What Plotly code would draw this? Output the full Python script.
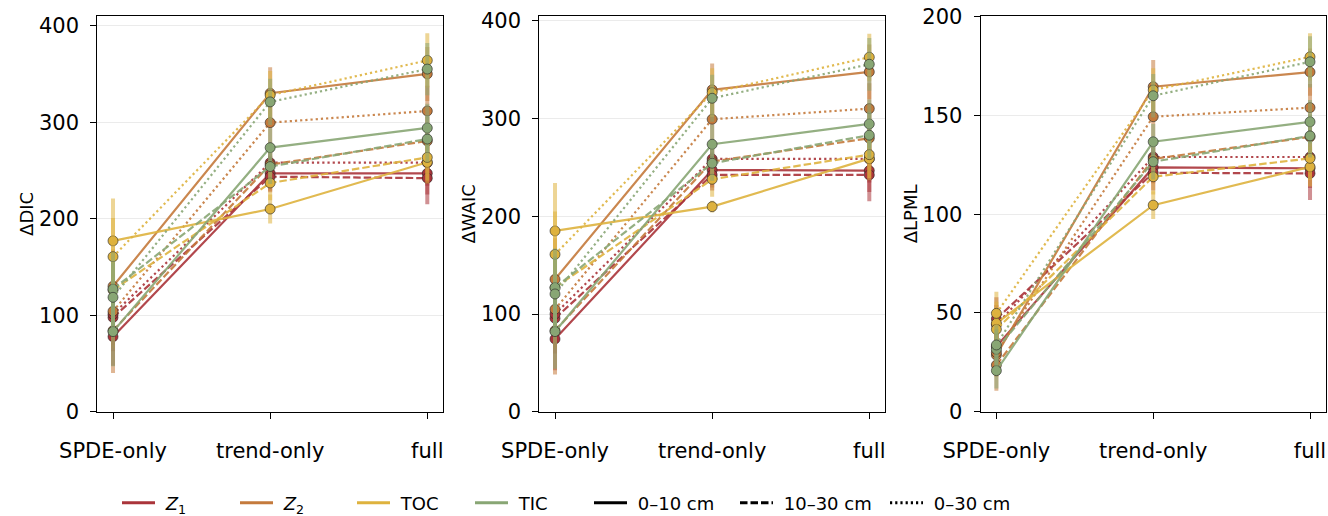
import plotly.graph_objects as go

# ---------------- data ----------------
MODELS = ["SPDE-only", "trend-only", "full"]
VARIABLES = ["Z1", "Z2", "TOC", "TIC"]
VAR_LABELS = ["<i>Z</i><sub>1</sub>", "<i>Z</i><sub>2</sub>", "TOC", "TIC"]
DEPTHS = ["0–10 cm", "10–30 cm", "0–30 cm"]
PANEL_TITLES = ["ΔDIC", "ΔWAIC", "ΔLPML"]

# values per depth: [0–10 cm, 10–30 cm, 0–30 cm], each over MODELS
DIC_Z1 = [[77.7, 247, 247], [97.7, 243.5, 242], [101, 258, 258]]
DIC_Z2 = [[130, 330, 350], [84, 256, 280.5], [104, 299.5, 311.6]]
DIC_TOC = [[177, 210, 258.4], [126, 237, 263.5], [160.6, 328, 364]]
DIC_TIC = [[83, 273.6, 294], [127, 254, 282.5], [118.5, 321, 355]]

DIC_Z1_ERR = [[30, 18, 22], [35, 16, 27], [32, 18, 24]]
DIC_Z2_ERR = [[38, 27, 28], [44, 20, 25], [38, 22, 26]]
DIC_TOC_ERR = [[44, 15, 22], [38, 18, 24], [40, 25, 28]]
DIC_TIC_ERR = [[36, 20, 25], [38, 18, 24], [36, 24, 27]]

WAIC_Z1 = [[74.4, 247.4, 246.8], [95.6, 242.3, 242.3], [100, 258.7, 258.7]]
WAIC_Z2 = [[135.5, 329.4, 347.8], [83, 256, 279.9], [104.8, 299.3, 310.2]]
WAIC_TOC = [[185, 209.9, 259], [127, 237.9, 263.1], [161, 326.6, 362.8]]
WAIC_TIC = [[82, 273.7, 294.5], [127, 254.3, 283], [120.5, 320.8, 355.6]]

WAIC_Z1_ERR = [[32, 18, 22], [36, 16, 27], [34, 18, 24]]
WAIC_Z2_ERR = [[42, 27, 28], [45, 20, 25], [40, 22, 26]]
WAIC_TOC_ERR = [[49, 6, 22], [40, 18, 24], [44, 25, 24]]
WAIC_TIC_ERR = [[38, 20, 25], [40, 18, 24], [38, 24, 27]]

LPML_Z1 = [[33, 123.7, 123.3], [47, 121, 120.7], [44, 129, 129]]
LPML_Z2 = [[28.7, 164.6, 172], [23.6, 128, 139.2], [30, 149.4, 154]]
LPML_TOC = [[44.7, 104.6, 124], [41.7, 119, 128.3], [49.8, 162.9, 179.7]]
LPML_TIC = [[20.8, 136.7, 146.8], [31.6, 126.6, 139.7], [33.8, 160, 177.2]]

LPML_Z1_ERR = [[10, 8, 10], [11, 9, 13.5], [10, 8, 10]]
LPML_Z2_ERR = [[11, 13.5, 12], [13, 9, 11], [11, 10, 12]]
LPML_TOC_ERR = [[11, 7, 10], [10, 9, 11], [11, 11, 12]]
LPML_TIC_ERR = [[9, 9, 11], [10, 9, 11], [10, 11, 13]]

Y_RANGES = [[0, 410], [0, 405], [0, 200.4]]
Y_DTICKS = [100, 100, 50]

# ---------------- style ----------------
COLORS = [(170, 52, 58), (196, 122, 60), (222, 178, 62), (136, 166, 116)]
DASHES = ["solid", "7.5px,3px", "2.2px,3px"]
W, H = 1328, 516
X_DOMAINS = [[97.3 / W, 443 / W], [539.3 / W, 885 / W], [980.7 / W, 1325.7 / W]]
Y_DOMAIN = [1 - 411.7 / H, 1 - 16 / H]
FONT = "DejaVu Sans"


def rgba(c, a):
    return f"rgba({c[0]},{c[1]},{c[2]},{a})"


panels = [
    ([DIC_Z1, DIC_Z2, DIC_TOC, DIC_TIC], [DIC_Z1_ERR, DIC_Z2_ERR, DIC_TOC_ERR, DIC_TIC_ERR]),
    ([WAIC_Z1, WAIC_Z2, WAIC_TOC, WAIC_TIC], [WAIC_Z1_ERR, WAIC_Z2_ERR, WAIC_TOC_ERR, WAIC_TIC_ERR]),
    ([LPML_Z1, LPML_Z2, LPML_TOC, LPML_TIC], [LPML_Z1_ERR, LPML_Z2_ERR, LPML_TOC_ERR, LPML_TIC_ERR]),
]

fig = go.Figure()
xpos = list(range(len(MODELS)))

for p, (vals, errs) in enumerate(panels):
    xa = "x" if p == 0 else f"x{p + 1}"
    ya = "y" if p == 0 else f"y{p + 1}"
    for v in range(len(VARIABLES)):
        col = COLORS[v]
        for d in range(len(DEPTHS)):
            fig.add_trace(go.Scatter(
                x=xpos, y=vals[v][d], xaxis=xa, yaxis=ya,
                mode="lines+markers", showlegend=False,
                line=dict(color=rgba(col, 0.9), width=2.2, dash=DASHES[d]),
                marker=dict(size=10, color=rgba(col, 1), line=dict(color="#222222", width=0.6)),
                error_y=dict(type="data", array=errs[v][d], visible=True,
                             color=rgba(col, 0.55), thickness=4, width=0),
                hoverinfo="skip",
            ))

# legend entries (each in its own legend so they can be placed precisely)
legend_items = []
for v in range(len(VARIABLES)):
    legend_items.append((VAR_LABELS[v], rgba(COLORS[v], 1), "solid"))
for d in range(len(DEPTHS)):
    legend_items.append((DEPTHS[d], "black", DASHES[d]))
LEG_X = [122, 240, 357, 475, 594, 740, 890]

layout_legends = {}
for i, (name, col, dash) in enumerate(legend_items):
    key = "legend" if i == 0 else f"legend{i + 1}"
    fig.add_trace(go.Scatter(
        x=[None], y=[None], mode="lines", name="\u00a0" + name, legend=key,
        line=dict(color=col, width=3, dash=dash), showlegend=True,
    ))
    layout_legends[key] = dict(
        xref="container", yref="container",
        x=(LEG_X[i] - 5) / W, xanchor="left", y=1 - 503 / H, yanchor="middle",
        orientation="h", bgcolor="rgba(0,0,0,0)", borderwidth=0,
        font=dict(family=FONT, size=18, color="black"), itemwidth=33,
    )

axis_common = dict(
    showline=True, linecolor="black", linewidth=1.2, mirror=True,
    ticks="outside", ticklen=6, tickwidth=1.2, tickcolor="black",
    tickfont=dict(family=FONT, size=21, color="black"), zeroline=False,
    automargin=False,
)

layout = dict(
    template="none",
    width=W, height=H, margin=dict(l=0, r=0, t=0, b=0, pad=0, autoexpand=False),
    paper_bgcolor="white", plot_bgcolor="white",
    font=dict(family=FONT, color="black"),
)
for p in range(3):
    xk = "xaxis" if p == 0 else f"xaxis{p + 1}"
    yk = "yaxis" if p == 0 else f"yaxis{p + 1}"
    ya = "y" if p == 0 else f"y{p + 1}"
    xa = "x" if p == 0 else f"x{p + 1}"
    layout[xk] = dict(
        axis_common, domain=X_DOMAINS[p], anchor=ya, range=[-0.1, 2.1],
        tickvals=xpos, ticktext=MODELS, showgrid=False, ticklabelstandoff=14,
    )
    layout[yk] = dict(
        axis_common, domain=Y_DOMAIN, anchor=xa, range=Y_RANGES[p],
        dtick=Y_DTICKS[p], tick0=0, showgrid=True, gridcolor="#ebebeb", gridwidth=1,
        title=dict(text=PANEL_TITLES[p], font=dict(family=FONT, size=18, color="black"), standoff=0),
        ticklabelstandoff=7,
    )
layout.update(layout_legends)
fig.update_layout(**layout)

fig.write_html("out.html")
